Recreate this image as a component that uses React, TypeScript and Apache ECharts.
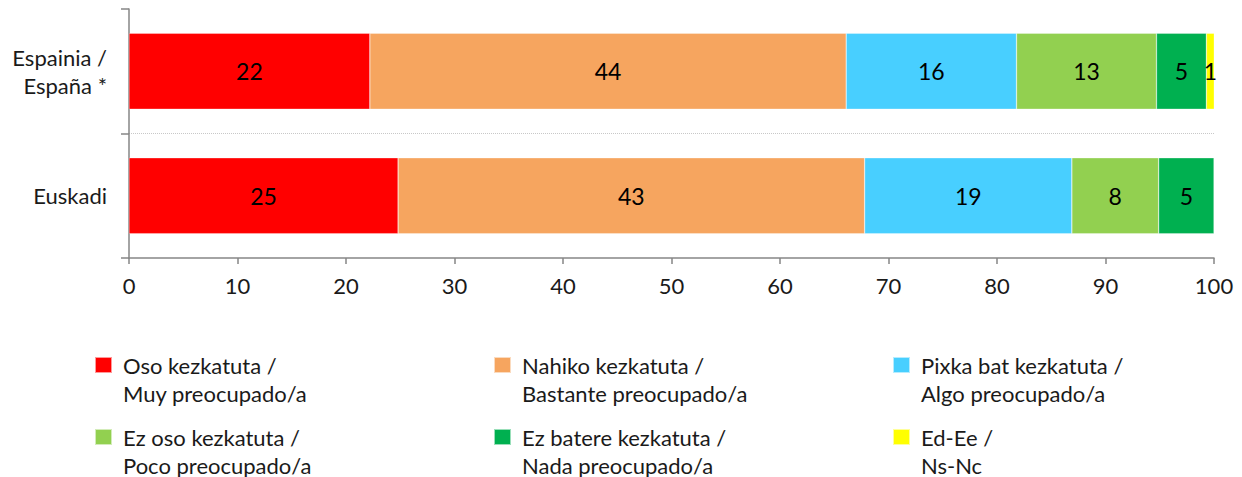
import React, { useEffect, useRef } from "react";
import * as echarts from "echarts";

const categories = ["Espainia /\nEspaña *", "Euskadi"];
const seriesNames = [
  "Oso kezkatuta /\nMuy preocupado/a",
  "Nahiko kezkatuta /\nBastante preocupado/a",
  "Pixka bat kezkatuta /\nAlgo preocupado/a",
  "Ez oso kezkatuta /\nPoco preocupado/a",
  "Ez batere kezkatuta /\nNada preocupado/a",
  "Ed-Ee /\nNs-Nc",
];
const osoValues = [22.2, 24.8];
const nahikoValues = [43.9, 43.0];
const pixkaValues = [15.7, 19.1];
const ezOsoValues = [12.9, 8.0];
const ezBatereValues = [4.6, 5.1];
const edEeValues = [0.8, null];
const allValues = [osoValues, nahikoValues, pixkaValues, ezOsoValues, ezBatereValues, edEeValues];
const colors = ["#FF0000", "#F6A55F", "#48CFFF", "#92D050", "#00B050", "#FFFF00"];
const xTicks = { min: 0, max: 100, interval: 10 };

const FONT = "Lato";

export default function App() {
  const ref = useRef<HTMLDivElement>(null);
  useEffect(() => {
    if (!ref.current) return;
    const chart = echarts.init(ref.current, undefined, { renderer: "svg" });
    const legendPos = [
      { left: 94, top: 323 },
      { left: 493, top: 323 },
      { left: 892, top: 323 },
      { left: 94, top: 395 },
      { left: 493, top: 395 },
      { left: 892, top: 395 },
    ];
    chart.setOption({
      animation: false,
      textStyle: { fontFamily: FONT },
      grid: { left: 129, right: 28, top: 9, bottom: 219, containLabel: false },
      xAxis: {
        type: "value",
        min: xTicks.min,
        max: xTicks.max,
        interval: xTicks.interval,
        axisLine: { show: true, lineStyle: { color: "#868686", width: 1.5 } },
        axisTick: { show: true, length: 6, lineStyle: { color: "#868686", width: 1.5 } },
        splitLine: { show: false },
        axisLabel: { fontFamily: FONT, fontSize: 22, color: "#1a1a1a", margin: 16 },
      },
      yAxis: {
        type: "category",
        inverse: true,
        data: categories,
        axisLine: { show: true, lineStyle: { color: "#868686", width: 1.5 } },
        axisTick: { show: true, length: 8, alignWithLabel: false, lineStyle: { color: "#868686", width: 1.5 } },
        splitLine: {
          show: true,
          showMinLine: false,
          showMaxLine: false,
          lineStyle: { color: "#C8C8C8", type: "dotted", width: 1 },
        },
        axisLabel: { fontFamily: FONT, fontSize: 22, color: "#1a1a1a", margin: 22, lineHeight: 28, align: "right" },
      },
      legend: seriesNames.map((name, i) => ({
        data: [name],
        left: legendPos[i].left,
        top: legendPos[i].top,
        padding: 0,
        icon: "rect",
        itemWidth: 17,
        itemHeight: 16,
        selectedMode: false,
        formatter: (n: string) => "\u00a0\n" + n,
        textStyle: {
          fontFamily: FONT,
          fontSize: 22,
          color: "#1a1a1a",
          lineHeight: 28,
          padding: [0, 0, 0, 6],
        },
      })),
      series: allValues.map((vals, i) => ({
        name: seriesNames[i],
        type: "bar",
        stack: "total",
        barWidth: "61%",
        data: vals.map((v) => (v === null ? "-" : v)),
        itemStyle: { color: colors[i], borderColor: "rgba(255,255,255,0.6)", borderWidth: 0.5 },
        label: {
          show: true,
          position: "inside",
          fontFamily: FONT,
          fontSize: 23,
          color: "#000",
          formatter: (p: any) => (typeof p.value === "number" ? String(Math.round(p.value)) : ""),
        },
      })),
    });
    return () => chart.dispose();
  }, []);
  return (
    <div
      ref={ref}
      style={{ position: "absolute", left: 0, top: 0, width: 1242, height: 477, background: "#fff" }}
    />
  );
}
